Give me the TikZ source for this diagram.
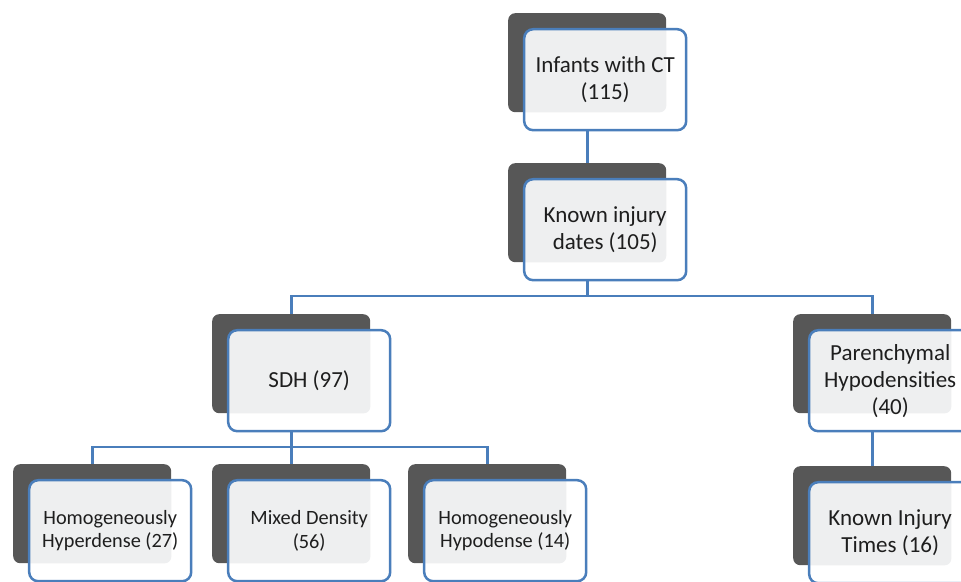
\documentclass[tikz,border=0pt]{standalone}
\usepackage{fontspec}
\setmainfont{Carlito}
\usetikzlibrary{calc}
\usetikzlibrary{positioning}

\definecolor{shadowgray}{HTML}{575757}
\definecolor{boxgray}{HTML}{EEEFF0}
\definecolor{lineblue}{HTML}{4A7EBB}
\definecolor{textdark}{HTML}{1E1E1E}

\tikzset{
  backbox/.style={fill=shadowgray, rounded corners=7pt, minimum width=158pt, minimum height=99pt, inner sep=0pt, anchor=north west},
  whitebox/.style={fill=white, rounded corners=9pt, minimum width=162pt, minimum height=101pt, inner sep=0pt},
  frontbox/.style={draw=lineblue, line width=2.5pt, rounded corners=9pt, minimum width=162pt, minimum height=101pt, inner sep=0pt, align=center, text=textdark, font=\fontsize{23}{27}\selectfont},
  smalltext/.style={font=\fontsize{20.3}{23.5}\selectfont},
  link/.style={draw=lineblue, line width=2.6pt},
}

% dark card behind, framed card in front
\newcommand{\stackbox}[4][]{%
  \node[backbox] (#2b) at (#3) {};
  \node[whitebox] (#2w) at ($(#2b.center)+(18,17)$) {};
  \begin{scope}
    \clip[rounded corners=7pt] (#2b.south west) rectangle (#2b.north east);
    \fill[boxgray, rounded corners=9pt] (#2w.south west) rectangle (#2w.north east);
  \end{scope}
  \node[frontbox,#1] (#2) at (#2w.center) {#4};
}

\begin{document}
\begin{tikzpicture}[x=1pt,y=-1pt]
  \useasboundingbox (0,0) rectangle (961,581);

  % top of the tree
  \stackbox{inf}{508,13}{Infants with CT\\(115)}
  \stackbox{kid}{508,163}{Known injury\\dates (105)}

  % second level
  \stackbox{sdh}{212,314}{SDH (97)}
  \stackbox{par}{793,314}{Parenchymal\\Hypodensities\\(40)}

  % third level
  \stackbox[smalltext]{hyper}{13,464}{Homogeneously\\Hyperdense (27)}
  \stackbox[smalltext]{mixed}{212,464}{Mixed Density\\(56)}
  \stackbox[smalltext]{hypo}{408,464}{Homogeneously\\Hypodense (14)}
  \stackbox{kit}{793,466}{Known Injury\\Times (16)}

  \coordinate (busa) at (0,296);
  \coordinate (busb) at (0,447);

  % connectors
  \draw[link] (inf.south -| infb.center) -- (kidb.north);
  \draw[link] (kid.south -| kidb.center) -- (kidb.center |- busa);
  \draw[link] (sdhb.north) |- (parb.north |- busa) -- (parb.north);
  \draw[link] (sdh.south -| sdhb.center) -- (sdhb.center |- busb);
  \draw[link] (hyperb.north) |- (hypob.north |- busb) -- (hypob.north);
  \draw[link] (mixedb.north) -- (mixedb.north |- busb);
  \draw[link] (par.south -| parb.center) -- (kitb.north);
\end{tikzpicture}
\end{document}
